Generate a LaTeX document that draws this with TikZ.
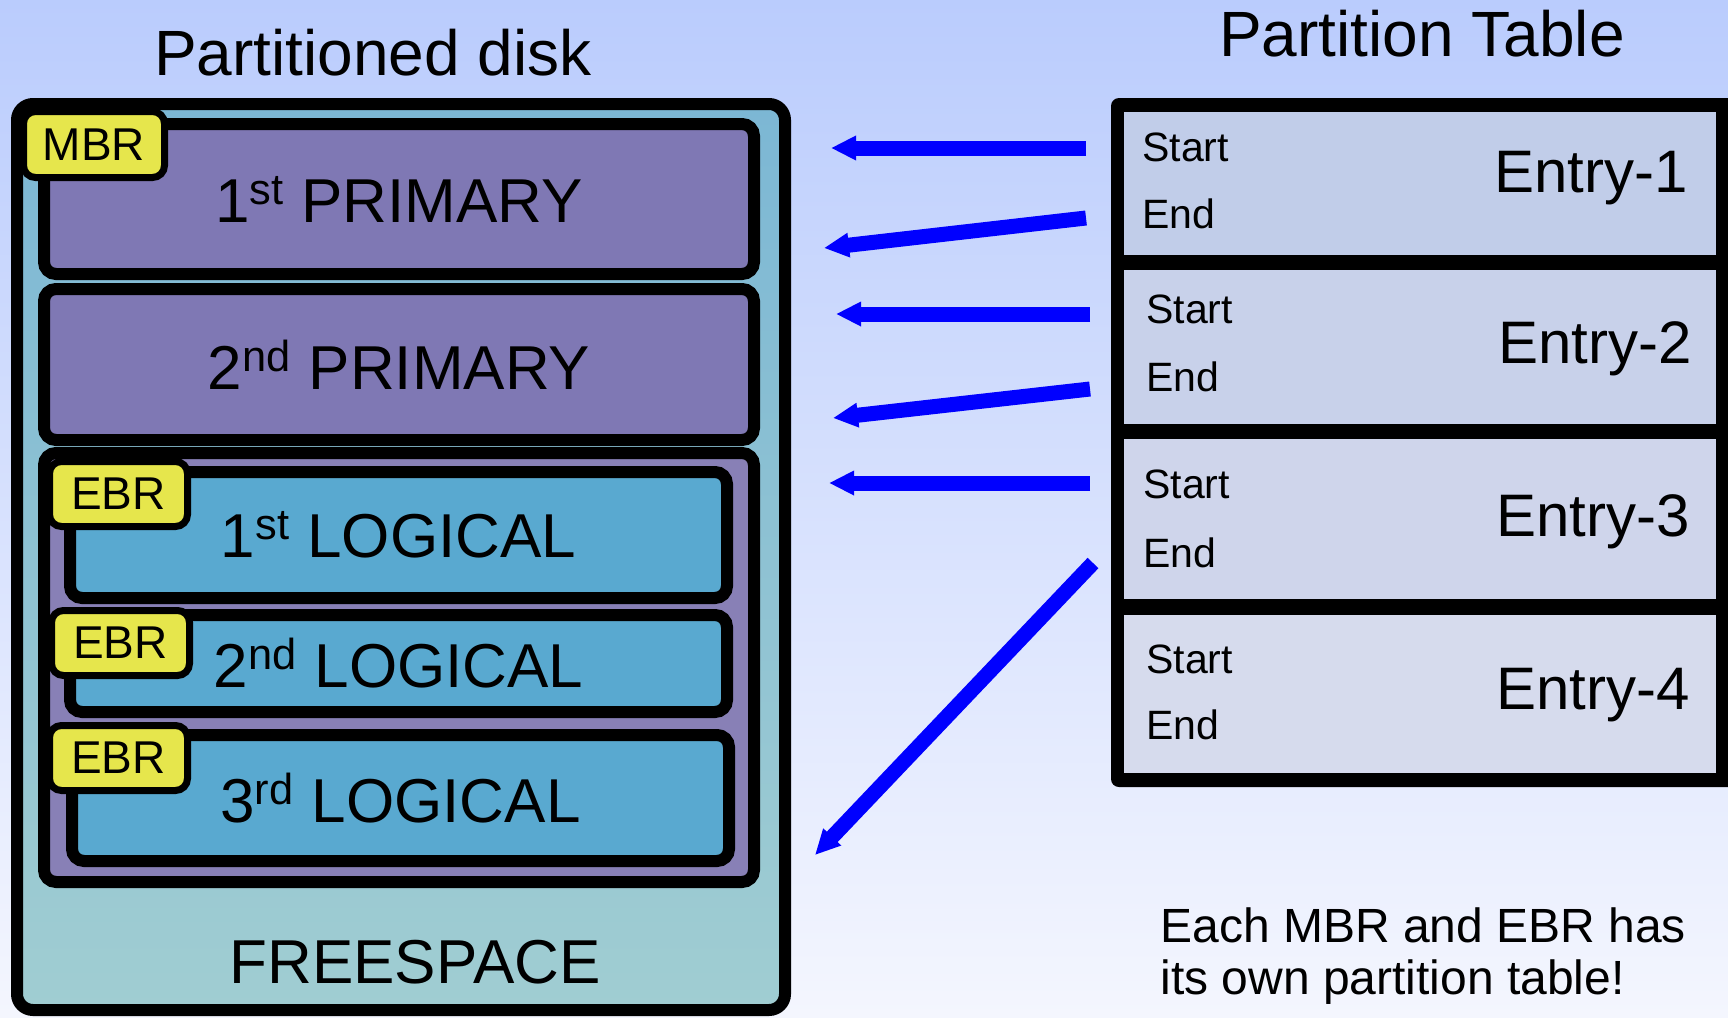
\documentclass[tikz,border=0pt]{standalone}
\usepackage{fontspec}
\setmainfont{Liberation Sans}
\usepackage{tikz}
\usetikzlibrary{arrows.meta}
\definecolor{bgtop}{RGB}{186,204,253}
\definecolor{bgbot}{RGB}{244,246,254}
\definecolor{dsktop}{RGB}{124,183,212}
\definecolor{dskbot}{RGB}{160,205,210}
\definecolor{pricol}{RGB}{127,120,180}
\definecolor{extcol}{RGB}{136,128,182}
\definecolor{logcol}{RGB}{89,169,208}
\definecolor{tagcol}{RGB}{230,230,76}
\definecolor{rowa}{RGB}{193,205,233}
\definecolor{rowb}{RGB}{200,209,234}
\definecolor{rowc}{RGB}{207,213,235}
\definecolor{rowd}{RGB}{214,219,237}
\definecolor{arrblue}{RGB}{0,0,255}
\tikzstyle{dsk_all} = [rectangle, draw=black, line width=6pt, rounded corners=8pt, top color=dsktop, bottom color=dskbot, inner sep=0pt]
\tikzstyle{dsk_pri} = [rectangle, draw=black, line width=6pt, rounded corners=6pt, fill=pricol, inner sep=0pt, font=\fontsize{31}{36}\selectfont, minimum width=355pt]
\tikzstyle{dsk_ext} = [rectangle, draw=black, line width=6pt, rounded corners=6pt, fill=extcol, inner sep=0pt, minimum width=355pt]
\tikzstyle{dsk_log} = [rectangle, draw=black, line width=6pt, rounded corners=6pt, fill=logcol, inner sep=0pt, font=\fontsize{31}{36}\selectfont, minimum width=328.5pt]
\tikzstyle{dsk_tag} = [rectangle, draw=black, line width=3.5pt, rounded corners=6pt, fill=tagcol, inner sep=0pt, font=\fontsize{23}{27}\selectfont, minimum width=69pt, minimum height=32.5pt]
\tikzstyle{dsk_txt} = [inner sep=0pt, font=\fontsize{31}{36}\selectfont, anchor=base]
\tikzstyle{tab_row} = [rectangle, inner sep=0pt, minimum width=296pt]
\tikzstyle{tab_se} = [inner sep=0pt, font=\fontsize{20.5}{24}\selectfont, anchor=base west]
\tikzstyle{tab_ent} = [inner sep=0pt, font=\fontsize{30}{34}\selectfont, anchor=base east]
\tikzstyle{ttl} = [inner sep=0pt, font=\fontsize{32}{38}\selectfont, anchor=base]
\tikzstyle{ptr} = [->, draw=arrblue, line width=7.5pt]

\begin{document}
\begin{tikzpicture}[x=0.5pt, y=-0.5pt, >={Triangle[length=12.5pt, width=11.5pt]}]
\useasboundingbox (0,0) rectangle (1728,1017);
\shade[top color=bgtop, bottom color=bgbot] (0,0) rectangle (1728,1017);

\node [ttl] (tdisk) at (373,75) {Partitioned disk};
\node [ttl] (ttab) at (1422,56) {Partition Table};

\node [dsk_all, minimum width=384pt, minimum height=453pt] (disk) at (401,557) {};
\node [dsk_pri, minimum height=75pt] (pri1) at (399,199) {1\textsuperscript{st} PRIMARY};
\node [dsk_pri, minimum height=75.5pt] (pri2) at (399,364.5) {2\textsuperscript{nd} PRIMARY};
\node [dsk_ext, minimum height=214.5pt] (ext) at (399,667.5) {};
\node [dsk_log, minimum height=63pt] (log1) at (398.5,535) {1\textsuperscript{st} LOGICAL};
\node [dsk_log, minimum height=48.5pt] (log2) at (398.5,663.5) {2\textsuperscript{nd} LOGICAL};
\node [dsk_log, minimum height=63pt] (log3) at (400.5,798) {3\textsuperscript{rd} LOGICAL};
\node [dsk_tag, minimum width=70.5pt, minimum height=33pt] (mbr) at (94,144.5) {MBR};
\node [dsk_tag] (ebr1) at (118.5,494) {EBR};
\node [dsk_tag] (ebr2) at (120.5,643) {EBR};
\node [dsk_tag] (ebr3) at (118.5,758) {EBR};
\node [dsk_txt] (free) at (415,983) {FREESPACE};

\node [rectangle, fill=black, rounded corners=4pt, inner sep=0pt, minimum width=317pt, minimum height=344.5pt] (ptab) at (1428,442.5) {};
\node [tab_row, fill=rowa, minimum height=71.5pt] (e1) at (1420,183.5) {};
\node [tab_row, fill=rowb, minimum height=77pt] (e2) at (1420,347) {};
\node [tab_row, fill=rowc, minimum height=80pt] (e3) at (1420,519) {};
\node [tab_row, fill=rowd, minimum height=79pt] (e4) at (1420,694) {};

\node [tab_se] (s1) at (1142,161) {Start};
\node [tab_se] (n1) at (1142,228) {End};
\node [tab_ent] (l1) at (1688,192) {Entry-1};
\node [tab_se] (s2) at (1146,323) {Start};
\node [tab_se] (n2) at (1146,391) {End};
\node [tab_ent] (l2) at (1692,363) {Entry-2};
\node [tab_se] (s3) at (1143,498) {Start};
\node [tab_se] (n3) at (1143,567) {End};
\node [tab_ent] (l3) at (1690,536) {Entry-3};
\node [tab_se] (s4) at (1146,673) {Start};
\node [tab_se] (n4) at (1146,739) {End};
\node [tab_ent] (l4) at (1690,709) {Entry-4};

\coordinate (a1s) at (1086,148);  \coordinate (a1t) at (831,148);
\coordinate (a2s) at (1086,218);  \coordinate (a2t) at (824,248);
\coordinate (a3s) at (1090,314);  \coordinate (a3t) at (836,314);
\coordinate (a4s) at (1090,389);  \coordinate (a4t) at (833,418);
\coordinate (a5s) at (1090,483);  \coordinate (a5t) at (829,483);
\coordinate (a6s) at (1093,563);  \coordinate (a6t) at (815,855);
\draw [ptr] (a1s) -- (a1t);
\draw [ptr] (a2s) -- (a2t);
\draw [ptr] (a3s) -- (a3t);
\draw [ptr] (a4s) -- (a4t);
\draw [ptr] (a5s) -- (a5t);
\draw [ptr] (a6s) -- (a6t);

\node [inner sep=0pt, font=\fontsize{24}{26}\selectfont, align=left, anchor=north west] (note) at (1160,907) {Each MBR and EBR has\\its own partition table!};
\end{tikzpicture}
\end{document}
